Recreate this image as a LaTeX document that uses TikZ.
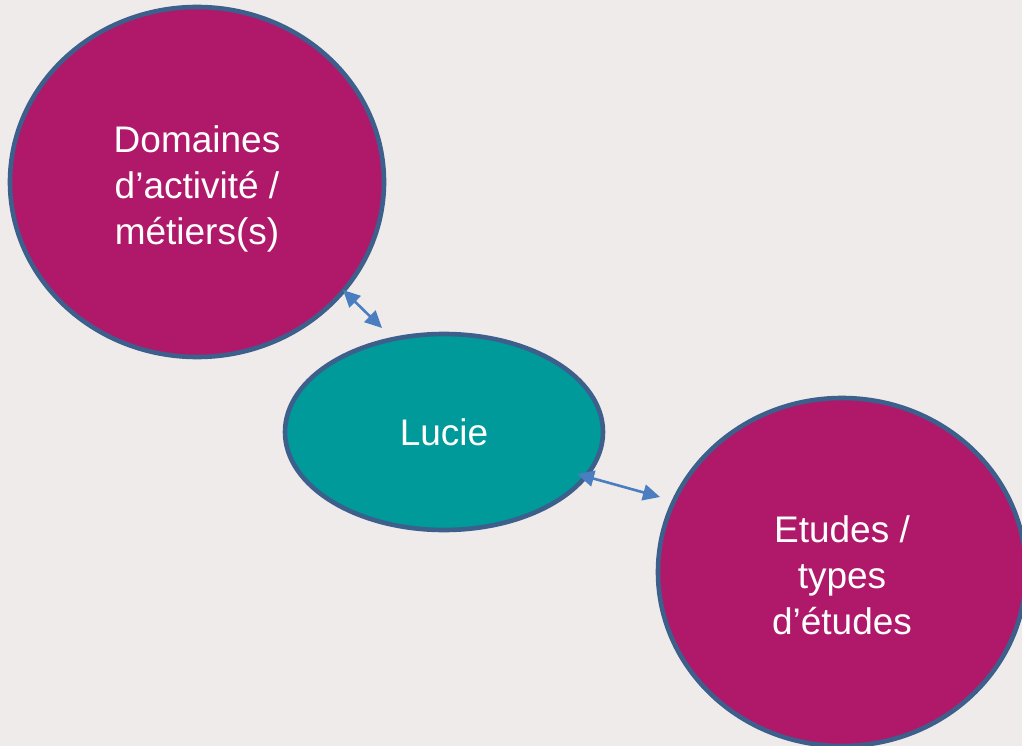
\documentclass[tikz,border=0pt]{standalone}
\usepackage{fontspec}
\setmainfont{Liberation Sans}
\usetikzlibrary{shapes.geometric,arrows.meta}
\definecolor{bg}{HTML}{EFEBEA}
\definecolor{magenta}{HTML}{B0196A}
\definecolor{teal}{HTML}{009A9A}
\definecolor{rim}{HTML}{3C5F8C}
\definecolor{arr}{HTML}{4A7EC0}
\begin{document}
\begin{tikzpicture}[x=1pt,y=-1pt,
  bubble/.style={ellipse,draw=rim,line width=4.6pt,inner sep=0pt,text=white,
    align=center,font=\fontsize{37}{46}\selectfont},
  txt/.style={text=white,align=center,inner sep=0pt,font=\fontsize{37}{46}\selectfont},
  link/.style={draw=arr,line width=2.6pt,{Triangle[length=17pt,width=16pt]}-{Triangle[length=17pt,width=16pt]}}]
\useasboundingbox (0,0) rectangle (1022,746);
\clip (0,0) rectangle (1022,746);
\fill[bg] (0,0) rectangle (1022,746);
\node[bubble,fill=magenta,minimum width=374pt,minimum height=350pt,
  label={[txt,yshift=-7pt]center:Domaines\\d’activité /\\métiers(s)}] (dom) at (197,182) {};
\node[bubble,fill=teal,minimum width=318pt,minimum height=196pt] (lucie) at (444,432) {Lucie};
\node[bubble,fill=magenta,minimum width=368pt,minimum height=348pt,
  label={[txt,yshift=-3pt]center:Etudes /\\types\\d’études}] (etu) at (842,572) {};
\draw[link] ([shift={(146,108)}]dom.center) -- ([shift={(-62,-104)}]lucie.center);
\draw[link] ([shift={(133,42)}]lucie.center) -- ([shift={(-182,-75)}]etu.center);
\end{tikzpicture}
\end{document}
